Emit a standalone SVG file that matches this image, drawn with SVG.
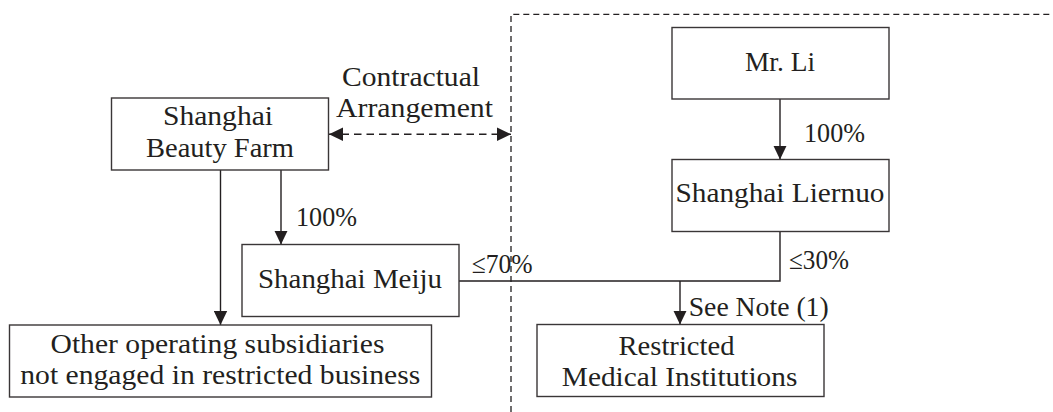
<svg xmlns="http://www.w3.org/2000/svg" width="1053" height="412" viewBox="0 0 1053 412">
<style>
.box{fill:#fff;stroke:#3a3637;stroke-width:1.4}
.t{font-family:"Liberation Serif","Times New Roman",serif;font-size:27px;fill:#231f20}
.m{text-anchor:middle}
.ln{fill:none;stroke:#231f20;stroke-width:1.4}
.dash{fill:none;stroke:#231f20;stroke-width:1.4;stroke-dasharray:7.5 5}
.frame{fill:none;stroke:#231f20;stroke-width:1.3;stroke-dasharray:6 4}
</style>
<defs>
<marker id="ah" markerUnits="userSpaceOnUse" markerWidth="14" markerHeight="14" refX="14" refY="6.7" orient="auto-start-reverse" viewBox="0 0 14 13.4">
<path d="M0,0 L14,6.7 L0,13.4 z" fill="#231f20"/>
</marker>
</defs>
<rect width="1053" height="412" fill="#fff"/>
<g id="frame">
<path class="frame" d="M511,412 V14.3 H1053"/>
</g>
<g id="connectors">
<path class="ln" d="M780,99 V159.5" marker-end="url(#ah)"/>
<path class="ln" d="M281,170 V244.5" marker-end="url(#ah)"/>
<path class="ln" d="M220.5,170 V325" marker-end="url(#ah)"/>
<path class="ln" d="M459,281 H780 V231.5"/>
<path class="ln" d="M680,281 V324.5" marker-end="url(#ah)"/>
<path class="dash" d="M329,134.3 H511" marker-start="url(#ah)" marker-end="url(#ah)"/>
<text class="t m" x="411" y="86" textLength="138" lengthAdjust="spacingAndGlyphs">Contractual</text>
<text class="t m" x="414.5" y="117.3" textLength="157" lengthAdjust="spacingAndGlyphs">Arrangement</text>
<text class="t" x="804" y="142.3" textLength="61" lengthAdjust="spacingAndGlyphs">100%</text>
<text class="t" x="296" y="226" textLength="61" lengthAdjust="spacingAndGlyphs">100%</text>
<text class="t" x="471.7" y="273.3" textLength="61" lengthAdjust="spacingAndGlyphs">≤70%</text>
<text class="t" x="789" y="269.3" textLength="60" lengthAdjust="spacingAndGlyphs">≤30%</text>
<text class="t" x="688.7" y="316" textLength="140" lengthAdjust="spacingAndGlyphs">See Note (1)</text>
</g>
<g id="beauty-farm">
<rect class="box" x="111.5" y="98" width="217" height="72"/>
<text class="t m" x="218" y="125" textLength="110" lengthAdjust="spacingAndGlyphs">Shanghai</text>
<text class="t m" x="220" y="156.7" textLength="148" lengthAdjust="spacingAndGlyphs">Beauty Farm</text>
</g>
<g id="mr-li">
<rect class="box" x="672" y="27.5" width="217" height="71.5"/>
<text class="t m" x="780" y="70.7" textLength="70" lengthAdjust="spacingAndGlyphs">Mr. Li</text>
</g>
<g id="liernuo">
<rect class="box" x="672" y="159.5" width="217" height="72"/>
<text class="t m" x="780" y="202.3" textLength="209" lengthAdjust="spacingAndGlyphs">Shanghai Liernuo</text>
</g>
<g id="meiju">
<rect class="box" x="242" y="244.5" width="217" height="72"/>
<text class="t m" x="350" y="288.3" textLength="184" lengthAdjust="spacingAndGlyphs">Shanghai Meiju</text>
</g>
<g id="other">
<rect class="box" x="9.5" y="325" width="422" height="72"/>
<text class="t m" x="217.5" y="352.7" textLength="334" lengthAdjust="spacingAndGlyphs">Other operating subsidiaries</text>
<text class="t m" x="220.3" y="384" textLength="400" lengthAdjust="spacingAndGlyphs">not engaged in restricted business</text>
</g>
<g id="restricted">
<rect class="box" x="537" y="324.5" width="287" height="72"/>
<text class="t m" x="676.5" y="355" textLength="116" lengthAdjust="spacingAndGlyphs">Restricted</text>
<text class="t m" x="679.6" y="386" textLength="235.5" lengthAdjust="spacingAndGlyphs">Medical Institutions</text>
</g>
</svg>
